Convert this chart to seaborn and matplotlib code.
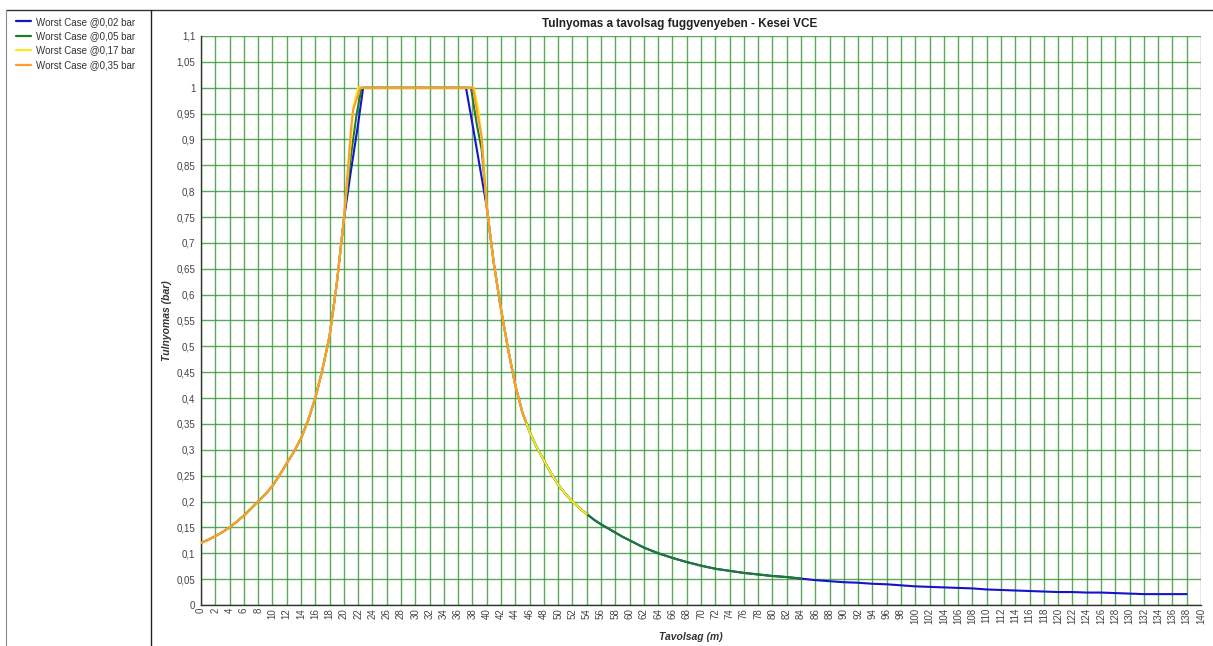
import matplotlib
matplotlib.use("Agg")
import matplotlib.pyplot as plt
from matplotlib.lines import Line2D
from matplotlib.ticker import FuncFormatter, MultipleLocator
import seaborn as sns
import pandas as pd

sns.set_theme(style="white")
plt.rcParams['font.family'] = ['Liberation Sans', 'DejaVu Sans']

# ---- data ----
series_names = ["Worst Case @0,02 bar", "Worst Case @0,05 bar",
                "Worst Case @0,17 bar", "Worst Case @0,35 bar"]
series_colors = ["#1414c8", "#1e7d2a", "#ffe81a", "#ff9d2a"]
series_end = [138, 84, 54, 45.5]

rise_x = [0, 1, 2, 3, 4, 5, 6, 7, 8, 9, 10, 11, 12, 13, 14, 15, 16, 17, 18,
          19, 20]
rise_y = [0.12, 0.126, 0.133, 0.141, 0.15, 0.161, 0.173, 0.186, 0.2, 0.214,
          0.23, 0.251, 0.274, 0.296, 0.322, 0.357, 0.40, 0.455, 0.52, 0.62,
          0.745]

peak_x = {
    "Worst Case @0,02 bar": [21, 22, 22.7, 37.1, 38, 39, 39.5],
    "Worst Case @0,05 bar": [21, 21.8, 22.5, 37.8, 38.6, 39.3],
    "Worst Case @0,17 bar": [21, 21.3, 22.0, 38.2, 38.8, 39.3],
    "Worst Case @0,35 bar": [21, 21.3, 22.3, 38.1, 38.7, 39.3],
}
peak_y = {
    "Worst Case @0,02 bar": [0.84, 0.93, 1.0, 1.0, 0.93, 0.85, 0.81],
    "Worst Case @0,05 bar": [0.87, 0.95, 1.0, 1.0, 0.93, 0.88],
    "Worst Case @0,17 bar": [0.90, 0.96, 1.0, 1.0, 0.96, 0.90],
    "Worst Case @0,35 bar": [0.92, 0.957, 1.0, 1.0, 0.95, 0.905],
}

fall_x = [40, 41, 42, 43, 44, 45, 46, 47, 48, 49, 50, 51, 52, 53, 54, 55, 56,
          57, 58, 59, 60, 62, 64, 66, 68, 70, 72, 74, 76, 78, 80, 82, 84, 86,
          88, 90, 92, 94, 96, 98, 100, 102, 104, 106, 108, 110, 112, 114, 116,
          118, 120, 122, 124, 126, 128, 130, 132, 134, 136, 138]
fall_y = [0.77, 0.66, 0.572, 0.494, 0.425, 0.372, 0.335, 0.305, 0.28, 0.255,
          0.233, 0.215, 0.200, 0.187, 0.176, 0.165, 0.156, 0.148, 0.140,
          0.132, 0.125, 0.111, 0.100, 0.091, 0.083, 0.076, 0.070, 0.066,
          0.062, 0.059, 0.056, 0.054, 0.051, 0.048, 0.046, 0.044, 0.043,
          0.041, 0.040, 0.038, 0.036, 0.035, 0.034, 0.033, 0.032, 0.030,
          0.029, 0.028, 0.027, 0.026, 0.025, 0.025, 0.024, 0.024, 0.023,
          0.022, 0.021, 0.021, 0.021, 0.021]

x_ticks = list(range(0, 141, 2))
title = "Tulnyomas a tavolsag fuggvenyeben - Kesei VCE"
x_label = "Tavolsag (m)"
y_label = "Tulnyomas (bar)"

# ---- build long table ----
rows = []
for name, end in zip(series_names, series_end):
    xs = rise_x + peak_x[name] + [x for x in fall_x if x <= end]
    ys = rise_y + peak_y[name] + [y for x, y in zip(fall_x, fall_y) if x <= end]
    if end not in fall_x:
        for i in range(len(fall_x) - 1):
            if fall_x[i] < end < fall_x[i + 1]:
                t = (end - fall_x[i]) / (fall_x[i + 1] - fall_x[i])
                xs.append(end)
                ys.append(fall_y[i] + t * (fall_y[i + 1] - fall_y[i]))
    for x, y in zip(xs, ys):
        rows.append({"series": name, "x": x, "y": y})
df = pd.DataFrame(rows)

# ---- figure ----
fig = plt.figure(figsize=(12.13, 6.46), dpi=100)
ax = fig.add_axes([0.1657, 0.0635, 0.8244, 0.8808])

sns.lineplot(data=df, x="x", y="y", hue="series", hue_order=series_names,
             palette=dict(zip(series_names, series_colors)), estimator=None,
             sort=False, linewidth=1.5, legend=False, ax=ax, zorder=3)

ax.set_xlim(0, 140)
ax.set_ylim(0, 1.1)
ax.yaxis.set_major_locator(MultipleLocator(0.05))
ax.yaxis.set_major_formatter(FuncFormatter(
    lambda v, p: ('%g' % round(v, 2)).replace('.', ',')))
ax.set_xticks(x_ticks)
ax.set_xticklabels([str(t) for t in x_ticks], rotation=90, va='top', ha='center')
ax.grid(True, color="#3f9a3f", linewidth=1.0, alpha=0.85, zorder=0)
ax.set_axisbelow(True)
ax.tick_params(axis='both', labelsize=7, colors='#444444', length=3,
               width=0.8, direction='out', pad=1)
ax.tick_params(axis='x', length=0, pad=2)
for s in ['top', 'right']:
    ax.spines[s].set_visible(False)
for s in ['left', 'bottom']:
    ax.spines[s].set_color('#333333')
    ax.spines[s].set_linewidth(1.0)

ax.set_xlabel(x_label, fontsize=7.5, style='italic', fontweight='bold',
              color='#333333')
ax.set_ylabel(y_label, fontsize=7.5, style='italic', fontweight='bold',
              color='#333333')
ax.xaxis.set_label_coords(0.49, -0.047)
ax.yaxis.set_label_coords(-0.029, 0.5)
fig.text(0.56, 0.963, title, fontsize=8.5, fontweight='bold', ha='center',
         va='center', color='#222222')

# frame lines
fig.add_artist(Line2D([0.005, 1.0], [0.985, 0.985], color='#333333', lw=1.0,
                      transform=fig.transFigure))
fig.add_artist(Line2D([0.005, 0.005], [0.0, 0.985], color='#888888', lw=0.8,
                      transform=fig.transFigure))
fig.add_artist(Line2D([0.1245, 0.1245], [0.0, 0.985], color='#222222', lw=1.0,
                      transform=fig.transFigure))

handles = [Line2D([0], [0], color=c, lw=1.6) for c in series_colors]
leg = fig.legend(handles, series_names, loc='upper left',
                 bbox_to_anchor=(0.008, 0.983), frameon=False, fontsize=7,
                 handlelength=1.6, handletextpad=0.5, labelspacing=0.45,
                 borderaxespad=0.2)
for t in leg.get_texts():
    t.set_color('#333333')

fig.savefig("out.png", dpi=100)
